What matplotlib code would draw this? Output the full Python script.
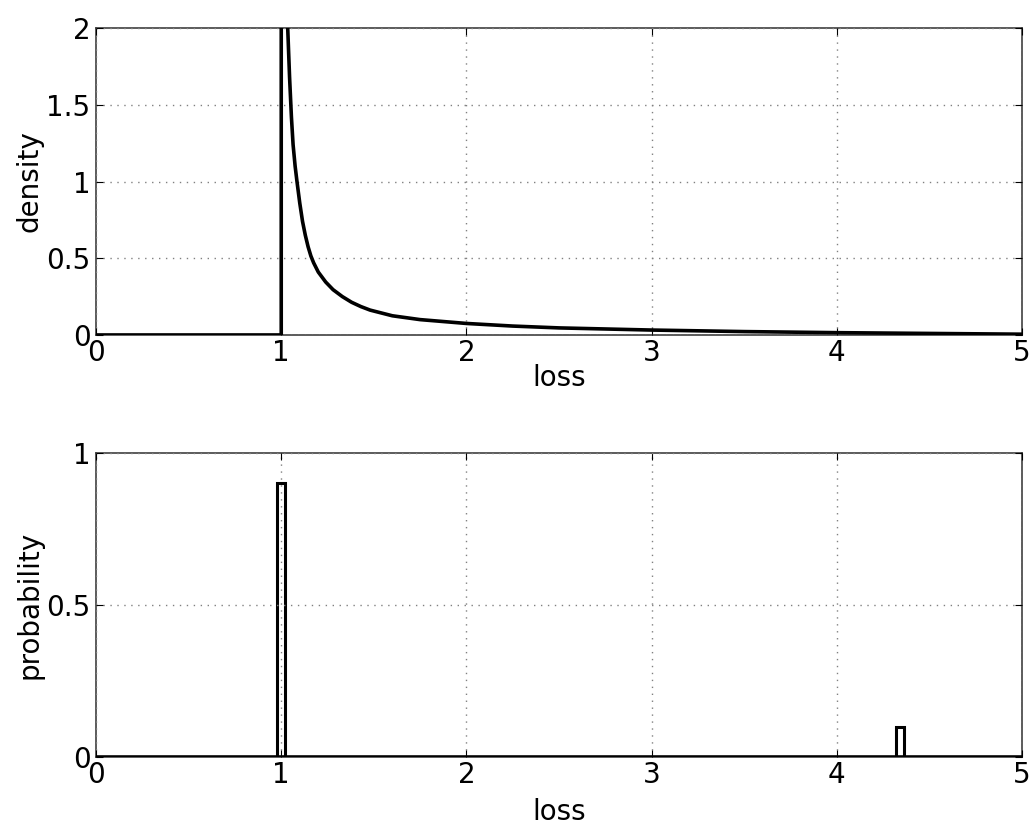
import matplotlib.pyplot as plt

plt.rcParams['font.family'] = ['DejaVu Sans']

# density curve
loss_pts = [0.0, 1.0, 1.0, 1.035, 1.045, 1.055, 1.064, 1.075, 1.085, 1.1, 1.115, 1.13,
            1.145, 1.16, 1.175, 1.2, 1.24, 1.28, 1.33, 1.38, 1.43, 1.48, 1.6, 1.75,
            2.0, 2.25, 2.5, 3.0, 3.5, 4.0, 4.5, 5.0]
density = [0.0, 0.0, 2.3, 2.0, 1.68, 1.42, 1.24, 1.1, 1.0, 0.86, 0.74, 0.65,
           0.575, 0.515, 0.47, 0.41, 0.345, 0.295, 0.25, 0.213, 0.185, 0.162, 0.125, 0.1,
           0.075, 0.058, 0.046, 0.032, 0.022, 0.015, 0.01, 0.005]

# point masses in the bottom panel
mass_loss = [1.0, 4.34]
mass_prob = [0.9, 0.1]
bar_width = 0.045

FONTSIZE_TICK = 20
FONTSIZE_LABEL = 20

fig = plt.figure(figsize=(10.36, 8.32), dpi=100)
ax1 = fig.add_axes([0.0927, 0.5974, 0.8938, 0.3689])
ax2 = fig.add_axes([0.0927, 0.0901, 0.8938, 0.3654])

for ax in (ax1, ax2):
	ax.set_xlim(0, 5)
	ax.set_xticks([0, 1, 2, 3, 4, 5])
	ax.grid(True, linestyle=(0, (1, 4)), color='0.5', linewidth=1.0)
	ax.set_axisbelow(False)
	ax.tick_params(direction='in', length=5, labelsize=FONTSIZE_TICK, top=True, right=True)
	ax.tick_params(axis='x', pad=3)
	ax.tick_params(axis='y', pad=4)
	for s in ax.spines.values():
		s.set_linewidth(1.2)
		s.set_color('0.25')

ax1.plot(loss_pts, density, color='k', linewidth=2.6, clip_on=True, zorder=3,
	solid_joinstyle='round')
ax1.set_ylim(0, 2)
ax1.set_yticks([0, 0.5, 1, 1.5, 2])
ax1.set_yticklabels(["0", "0.5", "1", "1.5", "2"])
ax1.set_ylabel("density", fontsize=FONTSIZE_LABEL, labelpad=2)
ax1.set_xlabel("loss", fontsize=FONTSIZE_LABEL, labelpad=-2)

ax2.bar(mass_loss, mass_prob, width=bar_width, color='white', edgecolor='k',
	linewidth=2.2, zorder=2)
ax2.axhline(0, color='k', linewidth=2.6, zorder=3)
ax2.set_ylim(0, 1)
ax2.set_yticks([0, 0.5, 1])
ax2.set_yticklabels(["0", "0.5", "1"])
ax2.set_ylabel("probability", fontsize=FONTSIZE_LABEL, labelpad=2)
ax2.set_xlabel("loss", fontsize=FONTSIZE_LABEL, labelpad=6)

fig.savefig("out.png", dpi=100)
